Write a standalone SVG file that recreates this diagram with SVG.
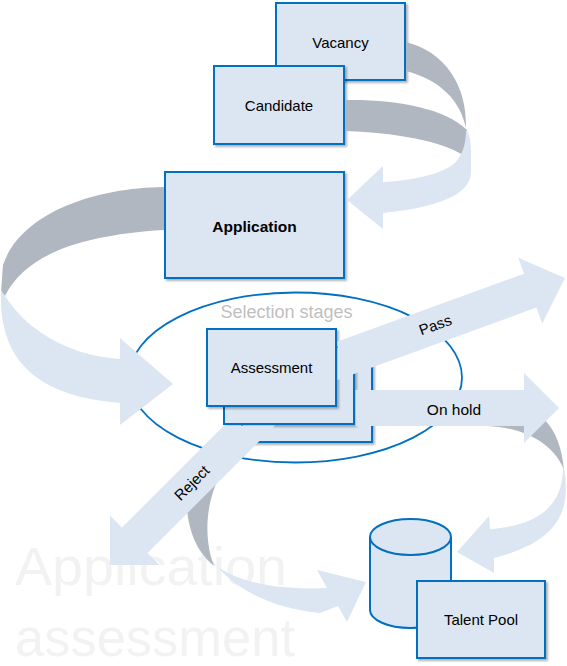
<svg xmlns="http://www.w3.org/2000/svg" width="567" height="666" viewBox="0 0 567 666">
<style>
.box{fill:#DCE6F2;stroke:#0070C0;stroke-width:2}
.lbl{font-family:"Liberation Sans",Arial,sans-serif;font-size:15px;fill:#000;text-anchor:middle}
.light{fill:#DCE6F2}
.dark{fill:#B0B7C0}
.wm{font-family:"Liberation Sans",Arial,sans-serif;font-size:54px;fill:#F2F2F2}
</style>
<defs>
<filter id="sh" x="-10%" y="-10%" width="125%" height="125%">
<feDropShadow dx="2" dy="2" stdDeviation="1.2" flood-color="#000" flood-opacity="0.3"/>
</filter>
</defs>
<rect width="567" height="666" fill="#fff"/>
<g id="watermark">
<text class="wm" x="15" y="585" textLength="272" lengthAdjust="spacingAndGlyphs">Application</text>
<text class="wm" x="15" y="656" textLength="280" lengthAdjust="spacingAndGlyphs">assessment</text>
</g>
<g id="selection-stages">
<ellipse cx="295.5" cy="377.5" rx="166.5" ry="85" fill="none" stroke="#0070C0" stroke-width="1.8"/>
<text x="286.5" y="318" style="font-family:'Liberation Sans',Arial,sans-serif;font-size:18px;fill:#BFBFBF;text-anchor:middle">Selection stages</text>
</g>
<g id="vacancy">
<rect class="box" x="276" y="3" width="129" height="77" filter="url(#sh)"/>
<text class="lbl" x="340.5" y="48">Vacancy</text>
</g>
<g id="candidate">
<rect class="box" x="214" y="66" width="130" height="78" filter="url(#sh)"/>
<text class="lbl" x="279" y="111">Candidate</text>
</g>
<g id="application">
<rect class="box" x="165" y="172" width="179" height="106" filter="url(#sh)"/>
<text class="lbl" x="254.5" y="232" style="font-weight:bold;font-size:15.5px">Application</text>
</g>
<g id="assessment">
<rect class="box" x="242" y="365" width="130" height="77" filter="url(#sh)"/>
<rect class="box" x="224" y="347" width="130" height="77" filter="url(#sh)"/>
<rect class="box" x="207" y="329" width="129" height="77" filter="url(#sh)"/>
<text class="lbl" x="271.5" y="373">Assessment</text>
</g>
<g id="talent-pool">
<path class="box" d="M370,537 L370,610 A40.5,18 0 0 0 451,610 L451,537"/>
<ellipse class="box" cx="410.5" cy="537" rx="40.5" ry="18"/>
<rect class="box" x="417" y="581" width="128" height="77" filter="url(#sh)"/>
<text class="lbl" x="481" y="625">Talent Pool</text>
</g>
<g id="connectors">
<path class="dark" d="M406,42 C445,52 467,85 466,128 C460,100 440,80 406,71 Z"/>
<path class="dark" d="M345,100 C395,99 445,108 467,130 L468,142 L464,156 C452,146 410,133 345,131 Z"/>
<path class="light" d="M347,200 L383,166 L383,182 C405,181 440,176 455,163 C462,155 466,145 466,130 C469,134 471,140 471,150 L471,172 C471,190 450,206 383,213 L383,229 Z"/>
<path class="dark" d="M164,187 C90,188 20,215 3,265 L1,292 L5,296 C25,255 80,235 164,230 Z"/>
<path class="light" d="M1,290 C-1,345 20,395 120,403 L120,425 L173,384 L120,338 L120,359 C75,356 30,335 5,296 Z"/>
<path class="dark" d="M488,424 L545,420 C556,432 562,448 564,470 C556,448 530,428 488,426 Z"/>
<path class="light" d="M564,468 C570,505 565,540 494,558 L494,573 L457,552 L489,516 L490,529 C535,526 562,508 563,470 Z"/>
<path class="light" d="M195,515 C198,560 240,605 320,613 L338,606 L347,622 L366,582 L317,570 L327,588 C285,590 240,585 212,563 Z"/>
<path class="dark" d="M186,498 C188,535 198,552 214,566 C205,543 203,505 222,472 Z"/>
<path class="light" d="M565,278 L518.3,257.8 L524.1,273.7 L337.5,341.6 L337.5,380 L536.4,307.6 L542.2,323.5 Z"/>
<text class="lbl" transform="translate(435.3,325.2) rotate(-20)" x="0" y="5">Pass</text>
<path class="light" d="M559,408 L524,373 L524,390 L355.5,390 L355.5,426 L524,426 L524,443 Z"/>
<text class="lbl" x="454" y="415" style="font-size:15.5px">On hold</text>
<path class="light" d="M110,565 L110,515.5 L122,527.5 L224,425.5 L275,425.5 L147.5,553 L159.5,565 Z"/>
<text class="lbl" transform="translate(192,483) rotate(-45)" x="0" y="5">Reject</text>
</g>
</svg>
